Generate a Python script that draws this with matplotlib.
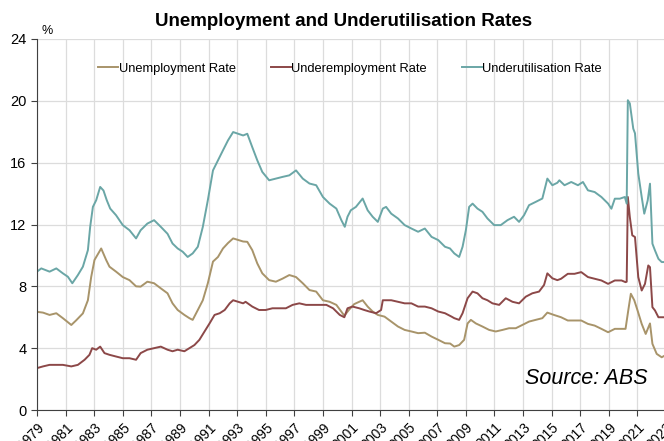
import matplotlib
matplotlib.use('Agg')
import matplotlib.pyplot as plt

plt.rcParams['font.family'] = ['Liberation Sans', 'DejaVu Sans']

# Unemployment rate (%)
unemp_years = [1979.0, 1979.42, 1979.88, 1980.35, 1980.81, 1981.4, 1981.74, 1982.21, 1982.56, 1982.79,
               1983.02, 1983.49, 1983.84, 1984.07, 1984.53, 1985.0, 1985.47, 1985.93, 1986.25, 1986.72,
               1987.19, 1987.66, 1988.13, 1988.48, 1988.84, 1989.31, 1989.66, 1989.89, 1990.25, 1990.6,
               1990.95, 1991.31, 1991.66, 1992.01, 1992.36, 1992.72, 1993.07, 1993.42, 1993.71, 1994.06,
               1994.41, 1994.76, 1995.24, 1995.71, 1996.18, 1996.65, 1997.12, 1997.59, 1998.06, 1998.53,
               1999.0, 1999.47, 1999.94, 2000.5, 2000.84, 2001.19, 2001.54, 2001.78, 2002.13, 2002.48,
               2002.84, 2003.31, 2003.78, 2004.25, 2004.72, 2005.19, 2005.66, 2006.13, 2006.6, 2007.07,
               2007.54, 2007.9, 2008.19, 2008.53, 2008.88, 2009.12, 2009.35, 2009.7, 2010.16, 2010.63,
               2011.09, 2011.56, 2012.02, 2012.49, 2012.95, 2013.42, 2013.88, 2014.35, 2014.7, 2015.16,
               2015.66, 2016.13, 2016.6, 2017.07, 2017.54, 2018.01, 2018.48, 2018.95, 2019.42, 2019.89,
               2020.17, 2020.36, 2020.54, 2020.78, 2021.01, 2021.3, 2021.58, 2021.88, 2022.05, 2022.35,
               2022.7, 2022.87]
unemp = [6.35, 6.3, 6.15, 6.26, 5.94, 5.5, 5.8, 6.25, 7.1, 8.6,
         9.7, 10.45, 9.7, 9.27, 8.95, 8.6, 8.4, 8.0, 7.98, 8.3,
         8.2, 7.87, 7.55, 6.9, 6.47, 6.15, 5.94, 5.83, 6.47, 7.1,
         8.2, 9.6, 9.9, 10.45, 10.8, 11.1, 11.0, 10.9, 10.88, 10.34,
         9.48, 8.84, 8.4, 8.3, 8.5, 8.73, 8.6, 8.2, 7.76, 7.66,
         7.1, 7.0, 6.8, 6.1, 6.5, 6.85, 7.0, 7.1, 6.69, 6.37,
         6.15, 6.04, 5.72, 5.4, 5.18, 5.08, 4.97, 5.0, 4.75, 4.54,
         4.32, 4.3, 4.1, 4.2, 4.54, 5.6, 5.83, 5.6, 5.4, 5.18,
         5.08, 5.18, 5.29, 5.29, 5.5, 5.72, 5.83, 5.94, 6.3, 6.15,
         6.0, 5.79, 5.79, 5.79, 5.57, 5.46, 5.25, 5.03, 5.25, 5.25,
         5.25, 6.44, 7.52, 7.1, 6.44, 5.57, 4.92, 5.6, 4.28, 3.63,
         3.41, 3.5]

# Underemployment rate (%)
underemp_years = [1979.0, 1979.42, 1979.88, 1980.35, 1980.81, 1981.4, 1981.86, 1982.33, 1982.67, 1982.86,
                  1983.14, 1983.42, 1983.72, 1984.07, 1984.53, 1985.0, 1985.47, 1985.93, 1986.25, 1986.72,
                  1987.19, 1987.66, 1988.13, 1988.48, 1988.84, 1989.31, 1989.66, 1990.01, 1990.36, 1990.72,
                  1991.07, 1991.42, 1991.78, 1992.13, 1992.48, 1992.72, 1993.07, 1993.42, 1993.59, 1994.06,
                  1994.53, 1995.0, 1995.47, 1995.94, 1996.41, 1996.88, 1997.35, 1997.82, 1998.29, 1998.76,
                  1999.24, 1999.71, 2000.18, 2000.5, 2000.72, 2001.07, 2001.54, 2001.89, 2002.25, 2002.72,
                  2003.07, 2003.19, 2003.78, 2004.25, 2004.72, 2005.19, 2005.66, 2006.13, 2006.6, 2007.07,
                  2007.54, 2008.0, 2008.19, 2008.53, 2008.77, 2009.12, 2009.47, 2009.81, 2010.16, 2010.51,
                  2010.86, 2011.33, 2011.79, 2012.26, 2012.72, 2013.19, 2013.65, 2014.12, 2014.47, 2014.7,
                  2015.05, 2015.4, 2015.66, 2016.13, 2016.6, 2017.07, 2017.54, 2018.01, 2018.48, 2018.95,
                  2019.42, 2019.89, 2020.17, 2020.25, 2020.33, 2020.47, 2020.64, 2020.83, 2021.06, 2021.3,
                  2021.53, 2021.76, 2021.88, 2022.05, 2022.23, 2022.47, 2022.7, 2022.87]
underemp = [2.71, 2.82, 2.92, 2.92, 2.92, 2.82, 2.92, 3.25, 3.57, 4.0,
            3.9, 4.1, 3.68, 3.57, 3.46, 3.35, 3.35, 3.25, 3.68, 3.9,
            4.0, 4.1, 3.9, 3.8, 3.9, 3.8, 4.0, 4.2, 4.54, 5.08,
            5.6, 6.15, 6.26, 6.47, 6.9, 7.1, 7.0, 6.9, 7.0, 6.69,
            6.47, 6.47, 6.58, 6.58, 6.58, 6.8, 6.9, 6.8, 6.8, 6.8,
            6.8, 6.58, 6.15, 6.0, 6.58, 6.69, 6.58, 6.47, 6.37, 6.26,
            6.47, 7.1, 7.1, 7.0, 6.9, 6.9, 6.69, 6.69, 6.58, 6.37,
            6.26, 6.04, 5.94, 5.83, 6.26, 7.23, 7.66, 7.55, 7.23, 7.1,
            6.9, 6.8, 7.23, 7.0, 6.9, 7.33, 7.55, 7.66, 8.09, 8.84,
            8.52, 8.4, 8.49, 8.81, 8.81, 8.92, 8.6, 8.49, 8.38, 8.16,
            8.38, 8.38, 8.27, 8.3, 13.78, 12.48, 11.3, 11.19, 8.6, 7.73,
            8.16, 9.35, 9.24, 6.65, 6.44, 6.0, 6.0, 6.0]

# Underutilisation rate (%)
underutil_years = [1979.0, 1979.3, 1979.88, 1980.35, 1980.81, 1981.16, 1981.47, 1981.86, 1982.21, 1982.56,
                   1982.72, 1982.91, 1983.14, 1983.42, 1983.65, 1983.88, 1984.12, 1984.53, 1985.0, 1985.47,
                   1985.93, 1986.25, 1986.72, 1987.19, 1987.66, 1988.13, 1988.48, 1988.84, 1989.19, 1989.54,
                   1989.89, 1990.25, 1990.6, 1990.95, 1991.31, 1991.66, 1992.01, 1992.36, 1992.72, 1993.07,
                   1993.42, 1993.71, 1994.06, 1994.41, 1994.76, 1995.24, 1995.71, 1996.18, 1996.65, 1997.12,
                   1997.59, 1998.06, 1998.53, 1999.0, 1999.47, 1999.94, 2000.29, 2000.53, 2000.72, 2000.95,
                   2001.31, 2001.78, 2002.13, 2002.48, 2002.84, 2003.19, 2003.42, 2003.78, 2004.25, 2004.72,
                   2005.19, 2005.66, 2006.13, 2006.6, 2007.07, 2007.54, 2007.89, 2008.19, 2008.53, 2008.77,
                   2009.0, 2009.23, 2009.47, 2009.81, 2010.16, 2010.51, 2010.98, 2011.44, 2011.91, 2012.37,
                   2012.72, 2013.07, 2013.42, 2013.88, 2014.35, 2014.7, 2015.05, 2015.4, 2015.54, 2015.9,
                   2016.37, 2016.84, 2017.19, 2017.54, 2018.01, 2018.48, 2018.95, 2019.18, 2019.42, 2019.77,
                   2020.12, 2020.25, 2020.33, 2020.47, 2020.71, 2020.83, 2021.06, 2021.3, 2021.48, 2021.72,
                   2021.88, 2022.05, 2022.23, 2022.47, 2022.7, 2022.87]
underutil = [8.95, 9.16, 8.95, 9.16, 8.84, 8.62, 8.2, 8.73, 9.27, 10.34,
             11.85, 13.14, 13.57, 14.43, 14.2, 13.57, 13.03, 12.6, 11.96, 11.63,
             11.1, 11.63, 12.06, 12.28, 11.85, 11.4, 10.77, 10.45, 10.24, 9.9,
             10.13, 10.56, 11.85, 13.57, 15.5, 16.15, 16.8, 17.44, 17.98, 17.87,
             17.76, 17.87, 17.0, 16.15, 15.4, 14.86, 14.97, 15.08, 15.18, 15.5,
             14.97, 14.65, 14.54, 13.78, 13.35, 13.03, 12.28, 11.85, 12.5, 12.92,
             13.14, 13.68, 12.92, 12.5, 12.17, 13.03, 13.14, 12.7, 12.39, 11.96,
             11.74, 11.53, 11.74, 11.2, 10.99, 10.56, 10.45, 10.13, 9.9, 10.56,
             11.63, 13.14, 13.35, 13.03, 12.82, 12.39, 11.96, 11.96, 12.28, 12.5,
             12.17, 12.6, 13.25, 13.46, 13.68, 14.97, 14.54, 14.7, 14.86, 14.54,
             14.75, 14.54, 14.75, 14.21, 14.1, 13.78, 13.35, 13.02, 13.67, 13.67,
             13.78, 13.35, 20.04, 19.83, 18.2, 17.9, 15.3, 13.78, 12.7, 13.56,
             14.64, 10.76, 10.32, 9.78, 9.57, 9.57]

tick_years = list(range(1979, 2024, 2))

fig = plt.figure(figsize=(6.64, 4.41), dpi=100)
# axes run slightly past the right edge, like the cropped original
ax = fig.add_axes([37 / 664, 31 / 441, 629 / 664, 371 / 441])

ax.plot(unemp_years, unemp, color='#a8946a', lw=1.4, label='Unemployment Rate')
ax.plot(underemp_years, underemp, color='#8c4848', lw=1.4, label='Underemployment Rate')
ax.plot(underutil_years, underutil, color='#6aa6a6', lw=1.4, label='Underutilisation Rate')

ax.set_xlim(1979, 2023)
ax.set_ylim(0, 24)
ax.set_yticks(range(0, 25, 4))
ax.set_xticks(tick_years)
ax.set_xticklabels([str(y) for y in tick_years], rotation=45, ha='right',
                   rotation_mode='anchor', fontsize=10)
ax.tick_params(axis='y', labelsize=10.5, length=4, color='#404040')
ax.tick_params(axis='x', length=4, color='#404040')
ax.grid(True, color='#dcdcdc', lw=0.9)
ax.set_axisbelow(True)
for s in ['top', 'right']:
    ax.spines[s].set_visible(False)
ax.spines['left'].set_color('#404040')
ax.spines['bottom'].set_color('#404040')

fig.text(344 / 664, 1 - 21 / 441, 'Unemployment and Underutilisation Rates',
         ha='center', va='center', fontsize=13.5, fontweight='bold')
fig.text(42 / 664, 1 - 31 / 441, '%', ha='left', va='center', fontsize=9)
ax.text(0.971, 0.086, 'Source: ABS', transform=ax.transAxes, ha='right', va='center',
        fontsize=15.5, style='italic')

ax.legend(loc='center', bbox_to_anchor=(350 / 664, 1 - 69 / 441),
          bbox_transform=fig.transFigure, ncol=3, frameon=False, fontsize=9.3,
          handlelength=1.55, handletextpad=0.05, columnspacing=2.7)

fig.savefig('out.png', dpi=100)
